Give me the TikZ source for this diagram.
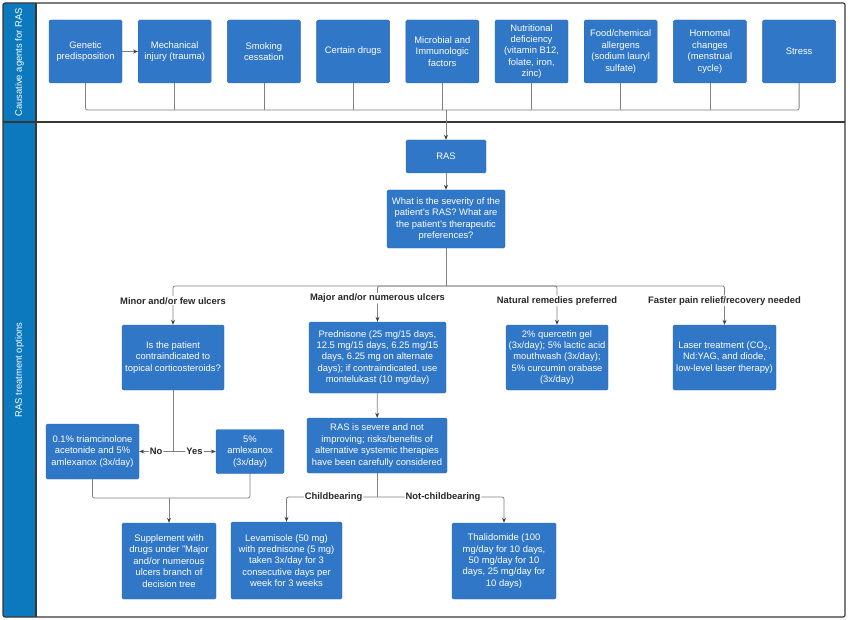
\documentclass[tikz,border=0pt]{standalone}
\usepackage{fontspec}
\setmainfont{Liberation Sans}
\usetikzlibrary{arrows.meta,positioning}
\tikzset{>={Stealth[length=5pt,width=4pt,color=black!75]}}
\definecolor{boxblue}{RGB}{49,119,200}
\definecolor{lanestrip}{RGB}{12,121,190}
\definecolor{wiregray}{RGB}{128,128,128}
\definecolor{framegray}{RGB}{55,55,55}
\definecolor{labeltext}{RGB}{40,40,40}

\begin{document}
\begin{tikzpicture}[x=1pt, y=-1pt,
    every node/.style={font=\fontsize{9.4}{11.4}\selectfont},
    box/.style={draw=boxblue!85!black, line width=0.4pt, fill=boxblue, rounded corners=1.5pt, text=white, align=center, inner sep=2pt},
    cause/.style={box, minimum width=73pt, minimum height=63pt},
    lbl/.style={fill=white, text=labeltext, inner sep=1pt, font=\fontsize{9.4}{11.4}\selectfont\bfseries},
    wire/.style={draw=wiregray, line width=0.8pt, rounded corners=2pt},
    arr/.style={wire, ->},
    node distance=15.8pt
  ]
    \useasboundingbox (0,0) rectangle (850,620);

    % swimlanes
    \fill[lanestrip, rounded corners=2pt] (3,3) rectangle (36,617);
    \draw[framegray, line width=1.2pt, rounded corners=2pt] (3,3) rectangle (845,617);
    \draw[framegray, line width=1.2pt] (36,3) -- (36,617);
    \draw[framegray, line width=1.2pt] (3,122) -- (845,122);
    \node[rotate=90, text=white] (causetitle) at (19.5,62.5) {Causative agents for RAS};
    \node[rotate=90, text=white] (treattitle) at (19.5,370) {RAS treatment options};

    % causative agents
    \node[cause] (genetic) at (85.5,51.5) {Genetic\\predisposition};
    \node[cause, right=of genetic] (mech) {Mechanical\\injury (trauma)};
    \node[cause, right=of mech] (smoking) {Smoking\\cessation};
    \node[cause, right=of smoking] (drugs) {Certain drugs};
    \node[cause, right=of drugs] (microbial) {Microbial and\\Immunologic\\factors};
    \node[cause, right=of microbial] (nutrition) {Nutritional\\deficiency\\(vitamin B12,\\folate, iron,\\zinc)};
    \node[cause, right=of nutrition] (food) {Food/chemical\\allergens\\(sodium lauryl\\sulfate)};
    \node[cause, right=of food] (hormone) {Hornomal\\changes\\(menstrual\\cycle)};
    \node[cause, right=of hormone] (stress) {Stress};

    \draw[arr] (genetic) -- (mech);
    \coordinate (bus) at (446,110);
    \draw[wire] (genetic.south) |- (stress.south |- bus) -- (stress.south);
    \foreach \n in {mech,smoking,drugs,microbial,nutrition,food,hormone}
      \draw[wire] (\n.south) -- (\n.south |- bus);

    % treatment options
    \node[box, minimum width=80pt, minimum height=33pt] (ras) at (446,156.5) {RAS};
    \node[box, minimum width=118pt, minimum height=58pt] (question) at (446,219) {What is the severity of the\\patient's RAS? What are\\the patient's therapeutic\\preferences?};
    \draw[arr] (bus) -- (ras);
    \draw[arr] (ras) -- (question);

    \node[box, minimum width=102pt, minimum height=65pt] (minorq) at (173,357.5) {Is the patient\\contraindicated to\\topical corticosteroids?};
    \node[box, minimum width=137pt, minimum height=71pt] (pred) at (377.5,357.5) {Prednisone (25 mg/15 days,\\12.5 mg/15 days, 6.25 mg/15\\days, 6.25 mg on alternate\\days); if contraindicated, use\\montelukast (10 mg/day)};
    \node[box, minimum width=102pt, minimum height=65pt] (natural) at (557,357.5) {2\% quercetin gel\\(3x/day); 5\% lactic acid\\mouthwash (3x/day);\\5\% curcumin orabase\\(3x/day)};
    \node[box, minimum width=103pt, minimum height=65pt] (laser) at (724.5,357.5) {Laser treatment (CO\textsubscript{2},\\Nd:YAG, and diode,\\low-level laser therapy)};

    \coordinate (split) at (446,286);
    \draw[wire] (question) -- (split);
    \draw[arr] (split) -| node[lbl, pos=0.69] {Minor and/or few ulcers} (minorq);
    \draw[arr] (split) -| node[lbl, pos=0.67] {Major and/or numerous ulcers} (pred);
    \draw[arr] (split) -| node[lbl, pos=0.69] {Natural remedies preferred} (natural);
    \draw[arr] (split) -| node[lbl, pos=0.69] {Faster pain relief/recovery needed} (laser);

    \node[box, minimum width=93pt, minimum height=55pt] (triam) at (92.5,451.5) {0.1\% triamcinolone\\acetonide and 5\%\\amlexanox (3x/day)};
    \node[box, minimum width=68pt, minimum height=44pt] (amlex) at (250,451.5) {5\%\\amlexanox\\(3x/day)};
    \node[box, minimum width=140pt, minimum height=55pt] (severe) at (377,445.5) {RAS is severe and not\\improving; risks/benefits of\\alternative systemic therapies\\have been carefully considered};

    \coordinate (yesno) at (173,451.5);
    \draw[wire] (minorq) -- (yesno);
    \draw[arr] (yesno) -- node[lbl] {No} (triam);
    \draw[arr] (yesno) -- node[lbl] {Yes} (amlex);
    \draw[arr] (pred) -- (severe);

    \node[box, minimum width=94pt, minimum height=76pt] (supp) at (169,561) {Supplement with\\drugs under "Major\\and/or numerous\\ulcers branch of\\decision tree};
    \node[box, minimum width=111pt, minimum height=77pt] (lev) at (286.5,560.5) {Levamisole (50 mg)\\with prednisone (5 mg)\\taken 3x/day for 3\\consecutive days per\\week for 3 weeks};
    \node[box, minimum width=104pt, minimum height=76pt] (thal) at (504,561) {Thalidomide (100\\mg/day for 10 days,\\50 mg/day for 10\\days, 25 mg/day for\\10 days)};

    \coordinate (join) at (169,498);
    \draw[wire] (triam) |- (join) -| (amlex);
    \draw[arr] (join) -- (supp);

    \coordinate (fork) at (377,497);
    \draw[wire] (severe) -- (fork);
    \draw[arr] (fork) -| node[lbl, pos=0.24] {Childbearing} (lev);
    \draw[arr] (fork) -| node[lbl, pos=0.26] {Not-childbearing} (thal);
  \end{tikzpicture}
\end{document}
